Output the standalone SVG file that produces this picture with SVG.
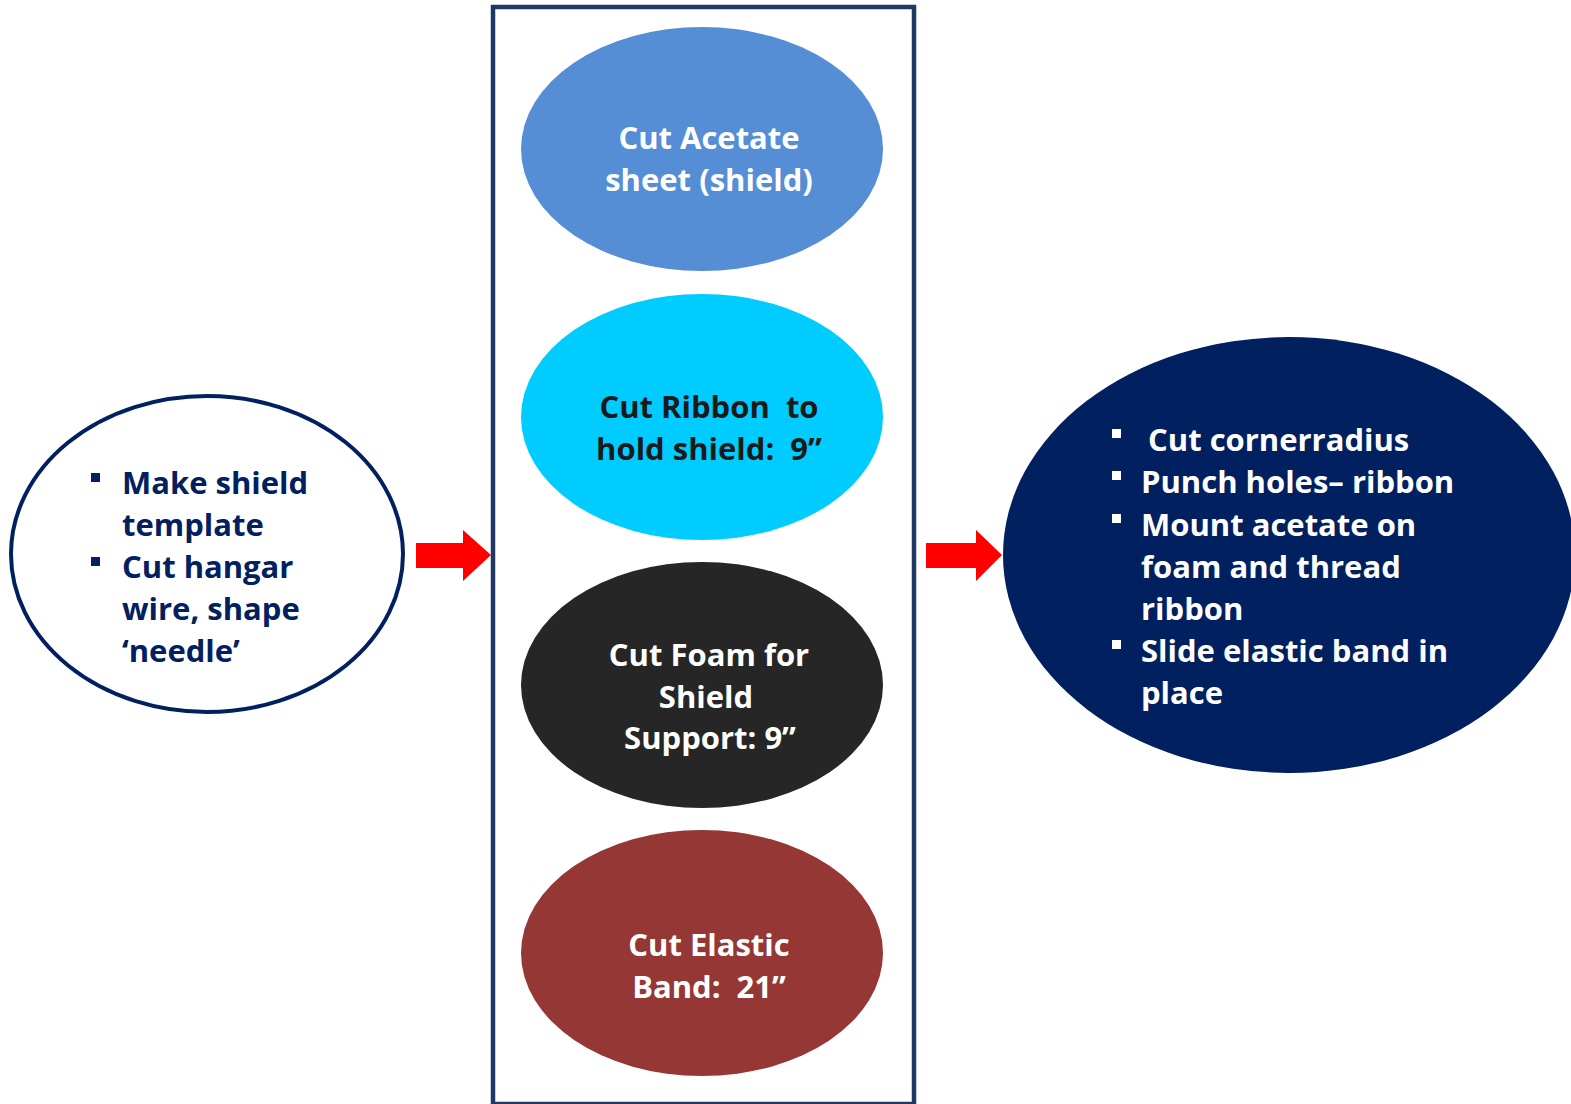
<svg xmlns="http://www.w3.org/2000/svg" width="1571" height="1104" viewBox="0 0 1571 1104">
<defs>
<style>
.t{font-family:"Open Sans","Liberation Sans",sans-serif;font-weight:bold;font-size:31px}
.c{text-anchor:middle}
.w{fill:#ffffff}
.n{fill:#002060}
.k{fill:#1a1a1a}
.arrow{fill:#ff0000}
</style>
</defs>
<rect width="1571" height="1104" fill="#ffffff"/>
<g id="container">
<rect x="493" y="7" width="421" height="1097" fill="none" stroke="#1f3864" stroke-width="4.5"/>
</g>
<g id="connectors">
<polygon class="arrow" points="416,543 463,543 463,530 491,555 463,581 463,568 416,568"/>
<polygon class="arrow" points="926,543 976,543 976,530 1002,555 976,581 976,568 926,568"/>
</g>
<g id="node-left">
<ellipse cx="207" cy="554" rx="196" ry="158" fill="#ffffff" stroke="#002060" stroke-width="4"/>
<rect x="91" y="473" width="9" height="9" class="n"/>
<rect x="91" y="557" width="9" height="9" class="n"/>
<text class="t n" x="122" y="494">Make shield</text>
<text class="t n" x="122" y="536">template</text>
<text class="t n" x="122" y="578">Cut hangar</text>
<text class="t n" x="122" y="620">wire, shape</text>
<text class="t n" x="122" y="662">‘needle’</text>
</g>
<g id="node-acetate">
<ellipse cx="702" cy="149" rx="181" ry="122" fill="#558ed5"/>
<text class="t c w" x="709" y="149">Cut Acetate</text>
<text class="t c w" x="709" y="191">sheet (shield)</text>
</g>
<g id="node-ribbon">
<ellipse cx="702" cy="417" rx="181" ry="123" fill="#00ccff"/>
<text class="t c k" x="709" y="418" xml:space="preserve">Cut Ribbon  to</text>
<text class="t c k" x="709" y="460" xml:space="preserve">hold shield:  9”</text>
</g>
<g id="node-foam">
<ellipse cx="702" cy="685" rx="181" ry="123" fill="#262626"/>
<text class="t c w" x="709" y="666">Cut Foam for</text>
<text class="t c w" x="706" y="708">Shield</text>
<text class="t c w" x="710" y="749">Support: 9”</text>
</g>
<g id="node-elastic">
<ellipse cx="702" cy="953" rx="181" ry="123" fill="#953735"/>
<text class="t c w" x="709" y="956">Cut Elastic</text>
<text class="t c w" x="709" y="998" xml:space="preserve">Band:  21”</text>
</g>
<g id="node-right">
<ellipse cx="1289" cy="555" rx="286" ry="218" fill="#002060"/>
<rect x="1112" y="429" width="9" height="9" class="w"/>
<rect x="1112" y="471" width="9" height="9" class="w"/>
<rect x="1112" y="514" width="9" height="9" class="w"/>
<rect x="1112" y="640" width="9" height="9" class="w"/>
<text class="t w" x="1148" y="451">Cut cornerradius</text>
<text class="t w" x="1141" y="493">Punch holes– ribbon</text>
<text class="t w" x="1141" y="536">Mount acetate on</text>
<text class="t w" x="1141" y="578">foam and thread</text>
<text class="t w" x="1141" y="620">ribbon</text>
<text class="t w" x="1141" y="662">Slide elastic band in</text>
<text class="t w" x="1141" y="704">place</text>
</g>
</svg>
